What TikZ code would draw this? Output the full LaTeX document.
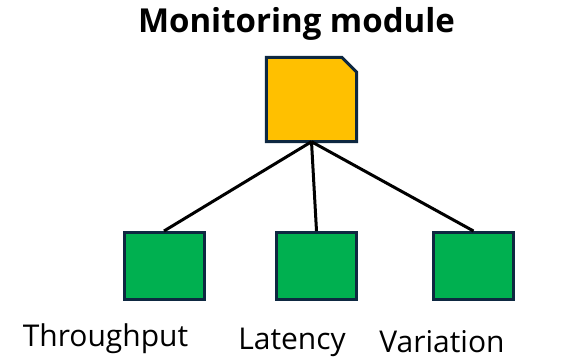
\documentclass[tikz,border=0pt]{standalone}
\usepackage{fontspec}
\setmainfont{Open Sans}
\usetikzlibrary{positioning,calc}
\definecolor{boxline}{HTML}{0E2841}
\definecolor{modyellow}{HTML}{FFC000}
\definecolor{metgreen}{HTML}{00B050}
\begin{document}
\begin{tikzpicture}[x=1pt,y=-1pt,
    mod/.style={%
      rectangle, draw=none,
      minimum width=90pt, minimum height=84pt, inner sep=0pt
    },
    met/.style={%
      rectangle, draw=boxline, line width=3pt, fill=metgreen,
      minimum width=80pt, minimum height=67pt, inner sep=0pt
    },
    lbl/.style={%
      anchor=base, inner sep=0pt, font=\fontsize{30}{34}\selectfont
    },
    link/.style={draw=black, line width=3pt}
]
    \useasboundingbox (0,0) rectangle (575,360);
    \node[lbl, font=\fontsize{33}{38}\selectfont\bfseries] (title) at (296.5,32) {Monitoring module};
    \node[mod] (monitor) at (311.5,99.5) {};
    % cut corner of the module box
    \draw[boxline, line width=3pt, fill=modyellow, line join=miter]
      (monitor.south west) |- ($(monitor.north east)+(-15,0)$)
      -- ($(monitor.north east)+(0,15)$) |- cycle;
    \node[met] (thr) at (164,266) {};
    \node[met] (lat) at (316.5,266) {};
    \node[met] (var) at (473.5,266) {};
    \node[lbl] (thrlbl) at (105.5,346) {Throughput};
    \node[lbl] (latlbl) at (292,349) {Latency};
    \node[lbl] (varlbl) at (442,352.5) {Variation};

    \path[link] (monitor.south) -- (thr.north)
                (monitor.south) -- (lat.north)
                (monitor.south) -- (var.north);
\end{tikzpicture}
\end{document}
